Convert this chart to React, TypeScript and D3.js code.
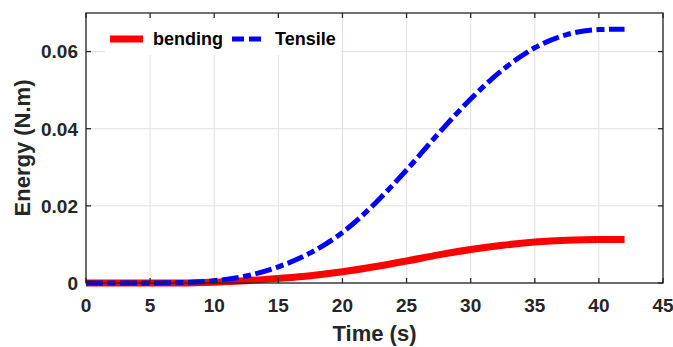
import React from 'react';
import * as d3 from 'd3';

const timeS = [0, 2.5, 5, 7.5, 10, 12.5, 15, 17.5, 20, 22.5, 25, 27.5, 30, 32.5, 35, 37.5, 40, 42];
const tensile = [0, 0, 0, 0.0001, 0.0006, 0.0018, 0.0042, 0.0078, 0.0131, 0.0205, 0.0293, 0.0388, 0.0477, 0.0553, 0.061, 0.0644, 0.0657, 0.0658];
const bending = [0, 0, 0, 0, 0.0002, 0.0006, 0.0012, 0.0019, 0.0029, 0.0042, 0.0057, 0.0073, 0.0087, 0.0098, 0.0106, 0.0111, 0.0113, 0.0113];
const xTicks = [0, 5, 10, 15, 20, 25, 30, 35, 40, 45];
const yTicks = [0, 0.02, 0.04, 0.06];
const yTickLabels = ['0', '0.02', '0.04', '0.06'];
const seriesNames = ['bending', 'Tensile'];

const W = 673;
const H = 347;
const margin = { left: 86, right: 10, top: 13, bottom: 64 };
const ink = '#262626';
const font = '"Liberation Sans", Arial, sans-serif';

export default function App() {
  const x = d3.scaleLinear().domain([0, 45]).range([margin.left, W - margin.right]);
  const y = d3.scaleLinear().domain([0, 0.07]).range([H - margin.bottom, margin.top]);
  const [x0, x1] = x.range();
  const [y0, y1] = y.range();

  const line = d3.line<number>()
    .x((_, i) => x(timeS[i]))
    .y(d => y(d))
    .curve(d3.curveMonotoneX);
  const tensilePath = line(tensile) || '';
  const bendingPath = line(bending) || '';

  const tickLen = 5;

  return (
    <svg width={W} height={H} style={{ position: 'absolute', left: 0, top: 0, background: '#fff' }}>
      <rect x={0} y={0} width={W} height={H} fill="#fff" />
      {/* grid */}
      {xTicks.map(t => (
        <line key={'gx' + t} x1={x(t)} x2={x(t)} y1={y0} y2={y1} stroke="#e1e1e1" strokeWidth={1} />
      ))}
      {yTicks.map(t => (
        <line key={'gy' + t} x1={x0} x2={x1} y1={y(t)} y2={y(t)} stroke="#e1e1e1" strokeWidth={1} />
      ))}

      {/* legend background */}
      <rect x={105} y={y1 + 1} width={236} height={41} fill="#fff" />

      {/* series */}
      <path d={bendingPath} fill="none" stroke="#ff0000" strokeWidth={7} strokeLinecap="butt" />
      <path d={tensilePath} fill="none" stroke="#0000ff" strokeWidth={5} strokeDasharray="17,4.5,8,4.5" strokeLinecap="butt" />

      {/* box and ticks */}
      <rect x={x0} y={y1} width={x1 - x0} height={y0 - y1} fill="none" stroke={ink} strokeWidth={1.3} />
      {xTicks.map(t => (
        <g key={'tx' + t}>
          <line x1={x(t)} x2={x(t)} y1={y0} y2={y0 - tickLen} stroke={ink} strokeWidth={1.3} />
          <line x1={x(t)} x2={x(t)} y1={y1} y2={y1 + tickLen} stroke={ink} strokeWidth={1.3} />
          <text x={x(t)} y={y0 + 29} textAnchor="middle" fontFamily={font} fontWeight="bold" fontSize={19} fill={ink}>{t}</text>
        </g>
      ))}
      {yTicks.map((t, i) => (
        <g key={'ty' + t}>
          <line x1={x0} x2={x0 + tickLen} y1={y(t)} y2={y(t)} stroke={ink} strokeWidth={1.3} />
          <line x1={x1} x2={x1 - tickLen} y1={y(t)} y2={y(t)} stroke={ink} strokeWidth={1.3} />
          <text x={x0 - 8} y={y(t)} dy="0.36em" textAnchor="end" fontFamily={font} fontWeight="bold" fontSize={19} fill={ink}>{yTickLabels[i]}</text>
        </g>
      ))}

      {/* axis labels */}
      <text x={(x0 + x1) / 2} y={341} textAnchor="middle" fontFamily={font} fontWeight="bold" fontSize={22} fill={ink}>Time (s)</text>
      <text transform={`translate(30, ${(y0 + y1) / 2}) rotate(-90)`} textAnchor="middle" fontFamily={font} fontWeight="bold" fontSize={22} fill={ink}>Energy (N.m)</text>

      {/* legend */}
      <line x1={110} x2={143} y1={39} y2={39} stroke="#ff0000" strokeWidth={7} />
      <text x={153} y={39} dy="0.36em" fontFamily={font} fontWeight="bold" fontSize={18} fill="#000">{seriesNames[0]}</text>
      <line x1={232} x2={263} y1={39} y2={39} stroke="#0000ff" strokeWidth={5} strokeDasharray="12,5" />
      <text x={275} y={39} dy="0.36em" fontFamily={font} fontWeight="bold" fontSize={18} fill="#000">{seriesNames[1]}</text>
    </svg>
  );
}
